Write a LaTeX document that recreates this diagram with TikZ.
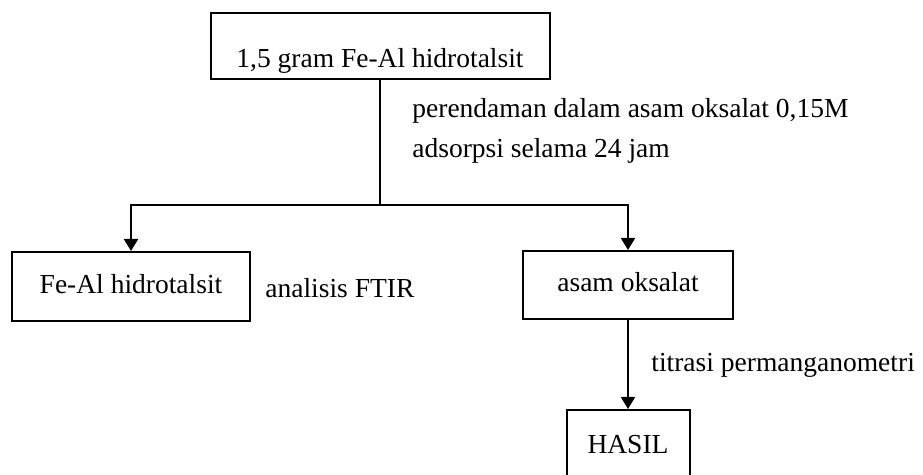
\documentclass[tikz,border=0pt]{standalone}
\usepackage{fontspec}
\setmainfont{Liberation Serif}
\usetikzlibrary{arrows.meta, positioning, calc}

\begin{document}
\begin{tikzpicture}[x=0.5pt, y=-0.5pt,
    every node/.style={font=\fontsize{13.75}{16}\selectfont},
    stepbox/.style={
        rectangle, draw=black, line width=1pt,
        text height=0.66em, text depth=0pt,
        inner sep=0pt, anchor=center,
    },
    note/.style={anchor=base west, inner sep=0pt},
    link/.style={line width=1.1pt},
    flow/.style={line width=1.1pt, -{Triangle[length=6pt, width=7pt]}},
]
\useasboundingbox (0,0) rectangle (923,475);

% ── Boxes ──────────────────────────────────────────────────────────────
\node[stepbox, minimum width=169.5pt, minimum height=33pt, text height=22pt]
    (start) at (380, 46) {1,5 gram Fe-Al hidrotalsit};
\node[stepbox, minimum width=119pt, minimum height=34.5pt]
    (solid) at (131, 286.5) {Fe-Al hidrotalsit};
\node[stepbox, minimum width=105pt, minimum height=34pt]
    (acid) at (628, 285) {asam oksalat};
\node[stepbox, minimum width=61.5pt, minimum height=37pt]
    (result) at (628, 447) {HASIL};

% ── Step labels ────────────────────────────────────────────────────────
\node[note] (soak)   at (412, 118) {perendaman dalam asam oksalat 0,15M};
\node[note] (adsorb) at (412, 158) {adsorpsi selama 24 jam};
\node[note] (ftir)   at (265, 298) {analisis FTIR};
\node[note] (titr)   at (651, 372) {titrasi permanganometri};

% ── Connectors ─────────────────────────────────────────────────────────
\coordinate (split) at (start.south |- 0, 205);
\draw[link] (start.south) -- (split);
\draw[flow] (split) -| (solid.north);
\draw[flow] (split) -| (acid.north);
\draw[flow] (acid.south) -- (result.north);

\end{tikzpicture}
\end{document}
